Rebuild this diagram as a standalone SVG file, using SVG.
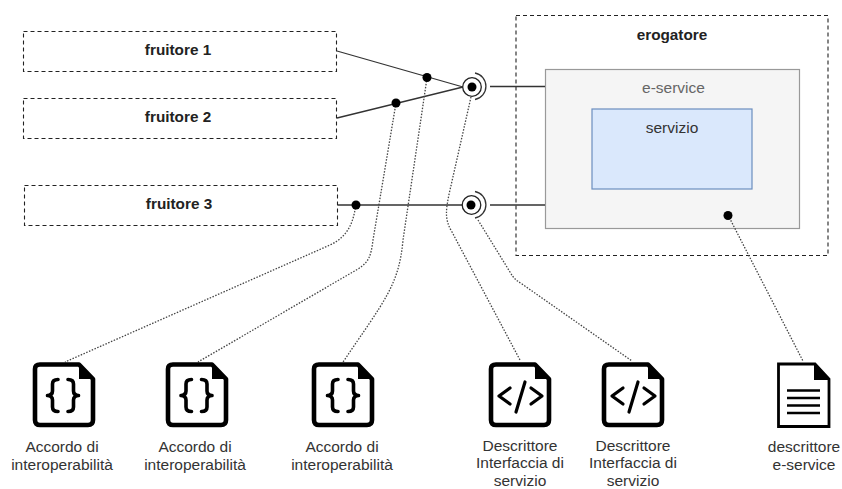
<svg xmlns="http://www.w3.org/2000/svg" width="842" height="489" viewBox="0 0 842 489">
<style>
text{font-family:"Liberation Sans",Arial,sans-serif;font-size:15.500px;text-anchor:middle;fill:#333}
.b{font-weight:bold;fill:#222;font-size:15.300px}
.dash{fill:#fff;stroke:#222;stroke-width:1.100;stroke-dasharray:4 3}
.line{fill:none;stroke:#333;stroke-width:1.300}
.dot{fill:none;stroke:#444;stroke-width:1.300;stroke-dasharray:1.500 1.500}
.ic{fill:#fff;stroke:#000;stroke-width:4.600;stroke-linejoin:round}
.gl{fill:none;stroke:#000;stroke-width:3.200;stroke-linecap:round;stroke-linejoin:round}
</style>
<defs>
<g id="file">
<path class="ic" d="M8 2.500H47L61 17V58Q61 63 56 63H8Q3 63 3 58V7Q3 2.500 8 2.500Z"/>
<path d="M47 2L62 17H47Z" fill="#000"/>
</g>
<g id="braces" class="gl">
<path d="M27 17.500Q21.500 17.500 21.500 22V29Q21.500 33 16.500 33.500Q21.500 34 21.500 38V45Q21.500 49.500 27 49.500" style="stroke-width:3.600"/>
<path d="M37 17.500Q42.500 17.500 42.500 22V29Q42.500 33 47.500 33.500Q42.500 34 42.500 38V45Q42.500 49.500 37 49.500" style="stroke-width:3.600"/>
</g>
<g id="code" class="gl">
<path d="M21 26L10 34L21 42"/><path d="M36 20L27 50"/><path d="M42 26L53 34L42 42"/>
</g>
</defs>
<rect width="842" height="489" fill="#fff"/>
<g id="erogatore"><rect class="dash" x="516" y="15.500" width="312" height="240"/><text class="b" x="672" y="40">erogatore</text></g>
<g id="e-service"><rect x="545.500" y="69.500" width="254" height="159" fill="#f5f5f5" stroke="#999" stroke-width="1.200"/><text x="673.500" y="93" style="fill:#666">e-service</text></g>
<g id="servizio"><rect x="592" y="109" width="160" height="80" fill="#dae8fc" stroke="#6c8ebf" stroke-width="1.200"/><text x="672" y="133">servizio</text></g>
<g id="fruitore-1"><rect class="dash" x="23.500" y="31.500" width="313" height="40"/><text class="b" x="178" y="55">fruitore 1</text></g>
<g id="fruitore-2"><rect class="dash" x="23.500" y="98.500" width="313" height="40"/><text class="b" x="178" y="122">fruitore 2</text></g>
<g id="fruitore-3"><rect class="dash" x="24.500" y="185.500" width="313" height="40"/><text class="b" x="179" y="209">fruitore 3</text></g>
<g id="connectors">
<path class="line" d="M337 51L463 87M337 118L463 87M490 86.500H545M338 205H463M490 205H545"/>
<path class="dot" d="M356 205C353 222 349 236 330 245L65 362"/>
<path class="dot" d="M396 103L373 240C371 256 369 262 358 269L198 362"/>
<path class="dot" d="M427 78L403 240C399 285 385 300 343 362"/>
<path class="dot" d="M471 97L450 190C445 212 445 220 452 232L520 360"/>
<path class="dot" d="M478 220L510 272C514 279 516 280 522 284L632 361"/>
<path class="dot" d="M728 215L803 361"/>
<g fill="#000"><circle cx="427" cy="77.500" r="4.500"/><circle cx="396" cy="103" r="4.500"/><circle cx="356" cy="205" r="4.500"/><circle cx="728" cy="215.500" r="4.500"/></g>
</g>
<g id="interface-1"><circle cx="472" cy="87" r="9.300" fill="#fff" stroke="#222" stroke-width="1.300"/><circle cx="472" cy="87" r="4.500"/><path class="line" d="M475 73A13.500 13.500 0 0 1 475 99.500"/></g>
<g id="interface-2"><circle cx="471.500" cy="205" r="9.300" fill="#fff" stroke="#222" stroke-width="1.300"/><circle cx="471" cy="205" r="4.500"/><path class="line" d="M475 191.500A13.500 13.500 0 0 1 475 218"/></g>
<g id="doc-1"><use href="#file" x="32" y="362"/><use href="#braces" x="31" y="362"/><text x="62" y="452">Accordo di</text><text x="62" y="470">interoperabilità</text></g>
<g id="doc-2"><use href="#file" x="165" y="362"/><use href="#braces" x="164.500" y="362"/><text x="195" y="452">Accordo di</text><text x="195" y="470">interoperabilità</text></g>
<g id="doc-3"><use href="#file" x="311" y="362"/><use href="#braces" x="311" y="362"/><text x="342" y="452">Accordo di</text><text x="342" y="470">interoperabilità</text></g>
<g id="doc-4"><use href="#file" x="488" y="362"/><use href="#code" x="489" y="362"/><text x="520" y="450.500">Descrittore</text><text x="520" y="468">Interfaccia di</text><text x="520" y="485.500">servizio</text></g>
<g id="doc-5"><use href="#file" x="601" y="362"/><use href="#code" x="602" y="362"/><text x="633" y="450.500">Descrittore</text><text x="633" y="468">Interfaccia di</text><text x="633" y="485.500">servizio</text></g>
<g id="doc-6"><path d="M778.500 364H815L829 379V426.500H778.500Z" fill="#fff" stroke="#000" stroke-width="2.800"/><path d="M814 363L830 380H814Z" fill="#000"/><path d="M787 390.500H820M787 398H820M787 405.500H820M787 413H820" stroke="#000" stroke-width="2.400"/><text x="804" y="452">descrittore</text><text x="804" y="470">e-service</text></g>
</svg>
